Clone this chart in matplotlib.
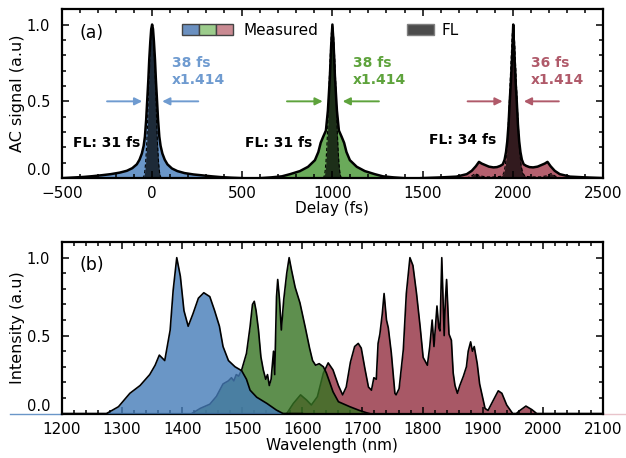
import matplotlib
matplotlib.use("Agg")
import matplotlib.pyplot as plt
from matplotlib.patches import Patch
from matplotlib.legend_handler import HandlerTuple
from matplotlib.ticker import MultipleLocator

plt.rcParams["xtick.direction"] = "in"
plt.rcParams["ytick.direction"] = "in"

# ---------------- (a) autocorrelation traces ----------------
# blue pulse, centred at 0 fs
delay_blue = [-500, -440, -380, -330, -280, -230, -180, -140, -110, -85, -70, -57, -47, -40, -33, -27, -21, -16, -10, -5, 0,
              5, 10, 16, 21, 27, 33, 40, 47, 57, 70, 85, 110, 140, 180, 230, 280, 330, 380, 440, 500]
meas_blue = [0.0, 0.004, 0.008, 0.013, 0.019, 0.026, 0.036, 0.048, 0.065, 0.09, 0.12, 0.16, 0.21, 0.27, 0.38, 0.51, 0.64, 0.77, 0.89, 0.97, 1.0,
             0.97, 0.89, 0.77, 0.64, 0.51, 0.38, 0.27, 0.21, 0.16, 0.12, 0.09, 0.063, 0.046, 0.033, 0.024, 0.018, 0.012, 0.007, 0.003, 0.0]
fl_delay_blue = [-54, -46, -41, -36, -31, -26, -22, -17, -12, -6, 0, 6, 12, 17, 22, 26, 31, 36, 41, 46, 54]
fl_blue = [0.0, 0.01, 0.04, 0.10, 0.20, 0.33, 0.50, 0.66, 0.80, 0.94, 1.0, 0.94, 0.80, 0.66, 0.50, 0.33, 0.20, 0.10, 0.04, 0.01, 0.0]

# green pulse, centred at 1000 fs
delay_green = [600, 660, 720, 765, 820, 865, 903, 922, 935, 949, 964, 975, 986, 993, 1000,
               1007, 1014, 1025, 1036, 1051, 1065, 1078, 1097, 1135, 1180, 1235, 1280, 1340, 1400]
meas_green = [0.0, 0.005, 0.012, 0.026, 0.046, 0.074, 0.117, 0.17, 0.23, 0.27, 0.31, 0.44, 0.66, 0.86, 1.0,
              0.86, 0.66, 0.44, 0.31, 0.27, 0.23, 0.17, 0.117, 0.074, 0.046, 0.026, 0.012, 0.005, 0.0]
fl_delay_green = [946, 954, 959, 964, 969, 974, 978, 983, 988, 994, 1000, 1006, 1012, 1017, 1022, 1026, 1031, 1036, 1041, 1046, 1054]
fl_green = [0.0, 0.01, 0.04, 0.10, 0.20, 0.33, 0.50, 0.66, 0.80, 0.94, 1.0, 0.94, 0.80, 0.66, 0.50, 0.33, 0.20, 0.10, 0.04, 0.01, 0.0]

# pink pulse, centred at 2003 fs
delay_pink = [1493, 1603, 1688, 1745, 1773, 1796, 1813, 1828, 1848, 1868, 1893, 1913, 1931, 1945, 1955, 1963, 1970, 1977, 1983, 1990, 1997, 2003,
              2009, 2016, 2023, 2029, 2036, 2043, 2051, 2061, 2075, 2093, 2113, 2138, 2158, 2178, 2193, 2210, 2233, 2261, 2318, 2403, 2513]
meas_pink = [0.0, 0.005, 0.01, 0.026, 0.048, 0.078, 0.106, 0.095, 0.085, 0.075, 0.07, 0.072, 0.08, 0.09, 0.12, 0.17, 0.24, 0.35, 0.49, 0.63, 0.8, 1.0,
             0.8, 0.63, 0.49, 0.35, 0.24, 0.17, 0.12, 0.09, 0.08, 0.072, 0.07, 0.075, 0.085, 0.095, 0.106, 0.078, 0.048, 0.026, 0.01, 0.005, 0.0]
fl_delay_pink = [1743, 1768, 1793, 1818, 1853, 1903, 1935, 1950, 1959, 1967, 1973, 1979, 1985, 1991, 1997, 2003,
                 2009, 2015, 2021, 2027, 2033, 2039, 2047, 2056, 2071, 2103, 2153, 2188, 2213, 2238, 2263]
fl_pink = [0.0, 0.012, 0.03, 0.015, 0.008, 0.008, 0.012, 0.03, 0.08, 0.17, 0.30, 0.44, 0.60, 0.77, 0.93, 1.0,
           0.93, 0.77, 0.60, 0.44, 0.30, 0.17, 0.08, 0.03, 0.012, 0.008, 0.008, 0.015, 0.03, 0.012, 0.0]

# ---------------- (b) spectra ----------------
wl_blue = [1113, 1274, 1294, 1313, 1330, 1346, 1355, 1362, 1371, 1380, 1385, 1391, 1397, 1403, 1410, 1418, 1427, 1436, 1446,
           1454, 1462, 1468, 1477, 1488, 1499, 1507, 1513, 1524, 1541, 1557, 1568, 1600]
spec_blue = [0.0, 0.0, 0.044, 0.13, 0.18, 0.25, 0.31, 0.375, 0.34, 0.535, 0.79, 1.0, 0.88, 0.66, 0.56, 0.64, 0.74, 0.775, 0.75,
             0.66, 0.56, 0.43, 0.34, 0.30, 0.275, 0.22, 0.15, 0.105, 0.065, 0.022, 0.0, 0.0]

wl_green = [1416, 1430, 1446, 1457, 1468, 1477, 1482, 1486, 1490, 1494, 1499, 1507, 1513, 1517, 1520, 1523, 1527, 1531, 1535,
            1539, 1542, 1545, 1548, 1552, 1554, 1557, 1559, 1562, 1565, 1569, 1574, 1578, 1582, 1588, 1596, 1605, 1612, 1617,
            1622, 1628, 1635, 1640, 1646, 1651, 1660, 1679, 1695, 1707, 1712]
spec_green = [0.0, 0.033, 0.06, 0.11, 0.19, 0.21, 0.23, 0.21, 0.25, 0.24, 0.28, 0.386, 0.557, 0.70, 0.72, 0.66, 0.536, 0.364, 0.28,
              0.22, 0.25, 0.18, 0.22, 0.40, 0.25, 0.75, 0.86, 0.73, 0.536, 0.73, 0.90, 1.0, 0.92, 0.81, 0.71, 0.55, 0.42, 0.34,
              0.31, 0.32, 0.30, 0.26, 0.195, 0.14, 0.076, 0.044, 0.02, 0.005, 0.0]

wl_pink = [1574, 1585, 1597, 1607, 1615, 1625, 1635, 1643, 1651, 1660, 1667, 1673, 1680, 1687, 1693, 1698, 1704, 1710, 1715,
           1719, 1723, 1726, 1729, 1733, 1736, 1740, 1743, 1748, 1754, 1756, 1761, 1768, 1773, 1779, 1784, 1790, 1796, 1801,
           1808, 1812, 1816, 1819, 1824, 1827, 1829, 1832, 1836, 1838, 1840, 1844, 1848, 1851, 1854, 1858, 1862, 1868, 1873,
           1876, 1880, 1883, 1886, 1891, 1895, 1904, 1909, 1915, 1926, 1932, 1940, 1950, 1956, 1962, 1972, 1982, 1990, 2140]
spec_pink = [0.0, 0.065, 0.12, 0.087, 0.055, 0.108, 0.26, 0.325, 0.28, 0.18, 0.12, 0.17, 0.33, 0.43, 0.45, 0.42, 0.29, 0.17, 0.15,
             0.23, 0.22, 0.45, 0.51, 0.64, 0.77, 0.6, 0.55, 0.39, 0.13, 0.12, 0.16, 0.41, 0.77, 1.0, 0.95, 0.77, 0.557, 0.36,
             0.31, 0.43, 0.6, 0.43, 0.69, 0.55, 0.53, 1.0, 0.5, 0.73, 0.86, 0.51, 0.47, 0.26, 0.18, 0.13, 0.18, 0.24, 0.30,
             0.40, 0.46, 0.40, 0.43, 0.32, 0.19, 0.033, 0.02, 0.065, 0.146, 0.13, 0.055, 0.0, 0.0, 0.02, 0.048, 0.025, 0.0, 0.0]

# annotations
fwhm_labels = ["38 fs\nx1.414", "38 fs\nx1.414", "36 fs\nx1.414"]
fwhm_x = [110, 1112, 2100]
fl_labels = ["FL: 31 fs", "FL: 31 fs", "FL: 34 fs"]
fl_x = [-437, 515, 1537]
fl_y = [0.228, 0.228, 0.247]
arrow_left = [(-250, -55), (748, 946), (1750, 1944)]
arrow_right = [(256, 56), (1258, 1057), (2256, 2062)]

top_fill = ["#6a96c8", "#6aaa5a", "#b4606e"]
txt_col = ["#6f9bd0", "#5ea33c", "#b05a6a"]
leg_col = ["#6b90c0", "#9ccc8c", "#c98a92"]

fig = plt.figure(figsize=(6.26, 4.58), dpi=100)
ax1 = fig.add_axes([0.099, 0.611, 0.864, 0.369])
ax2 = fig.add_axes([0.099, 0.097, 0.864, 0.3745])


def style(ax):
    ax.tick_params(which="both", direction="in", top=True, right=True, width=1.1)
    ax.tick_params(axis="x", which="both", labelsize=11, pad=6)
    ax.tick_params(axis="y", which="both", labelsize=10.5, pad=8.5)
    ax.tick_params(which="major", length=5, direction="in")
    ax.tick_params(which="minor", length=3, direction="in")
    for s in ax.spines.values():
        s.set_linewidth(1.6)


# ---- panel (a) ----
traces = [(delay_blue, meas_blue, fl_delay_blue, fl_blue),
          (delay_green, meas_green, fl_delay_green, fl_green),
          (delay_pink, meas_pink, fl_delay_pink, fl_pink)]
for i, (d, m, fd, f) in enumerate(traces):
    ax1.fill_between(d, 0, m, color=top_fill[i], lw=0, zorder=1)
    ax1.fill_between(fd, 0, f, color="black", alpha=0.72, lw=0, zorder=2)
    ax1.plot(fd, f, color="black", lw=0.8, ls=(0, (3, 2)), zorder=3)
    ax1.plot(d, m, color="black", lw=1.8, zorder=4)

for i in range(3):
    ax1.text(fwhm_x[i], 0.693, fwhm_labels[i], color=txt_col[i], fontsize=10, fontweight="bold",
             ha="left", va="center", linespacing=1.25)
    ax1.text(fl_x[i], fl_y[i], fl_labels[i], color="black", fontsize=10, fontweight="bold",
             ha="left", va="center")
    for (x0, x1) in (arrow_left[i], arrow_right[i]):
        ax1.annotate("", xy=(x1, 0.5), xytext=(x0, 0.5),
                     arrowprops=dict(arrowstyle="-|>", color=txt_col[i], lw=1.4, mutation_scale=11,
                                     shrinkA=0, shrinkB=0))

ax1.text(0.033, 0.86, "(a)", transform=ax1.transAxes, fontsize=12.5, va="center", ha="left")

h_meas = tuple(Patch(facecolor=c, edgecolor="#444444", lw=1.0) for c in leg_col)
leg1 = ax1.legend([h_meas], ["Measured"], handler_map={tuple: HandlerTuple(ndivide=None, pad=0)},
                  loc="center left", bbox_to_anchor=(0.222, 0.873), frameon=False, fontsize=11,
                  borderpad=0, borderaxespad=0, handlelength=3.35, handleheight=0.75, handletextpad=0.65)
ax1.add_artist(leg1)
h_fl = Patch(facecolor="#4c4c4c", edgecolor="#808080", lw=1.0)
ax1.legend([h_fl], ["FL"], loc="center left", bbox_to_anchor=(0.638, 0.873), frameon=False, fontsize=11,
           borderpad=0, borderaxespad=0, handlelength=1.75, handleheight=0.75, handletextpad=0.5)

ax1.set_xlim(-500, 2500)
ax1.set_ylim(0, 1.1)
ax1.xaxis.set_major_locator(MultipleLocator(500))
ax1.xaxis.set_minor_locator(MultipleLocator(100))
ax1.set_yticks([0, 0.5, 1.0])
ax1.yaxis.set_minor_locator(MultipleLocator(0.1))
ax1.set_xlabel("Delay (fs)", fontsize=11, labelpad=0)
ax1.set_ylabel("AC signal (a.u)", fontsize=11.5, labelpad=1)
style(ax1)

# ---- panel (b) ----
ax2.fill_between(wl_pink, 0, spec_pink, color="#a85866", lw=0, zorder=1)
ax2.plot(wl_pink, spec_pink, color="black", lw=1.2, zorder=1.5)
ax2.fill_between(wl_green, 0, spec_green, color="#367322", alpha=0.8, lw=0, zorder=2)
ax2.plot(wl_green, spec_green, color="black", lw=1.2, zorder=2.5)
ax2.fill_between(wl_blue, 0, spec_blue, color="#457cb8", alpha=0.8, lw=0, zorder=3)
ax2.plot(wl_blue, spec_blue, color="black", lw=1.2, zorder=3.5)

ax2.set_xlim(1200, 2100)
ax2.set_ylim(0, 1.1)
# fill edges that spill outside the frame in the original
ax2.plot([wl_blue[0], 1200], [0, 0], color="#6a96c8", lw=1.0, clip_on=False, zorder=0.5)
ax2.plot([2100, wl_pink[-1]], [0, 0], color="#e8c4cb", lw=1.0, clip_on=False, zorder=0.5)

ax2.text(0.033, 0.866, "(b)", transform=ax2.transAxes, fontsize=12.5, va="center", ha="left")
ax2.xaxis.set_major_locator(MultipleLocator(100))
ax2.xaxis.set_minor_locator(MultipleLocator(20))
ax2.set_yticks([0, 0.5, 1.0])
ax2.yaxis.set_minor_locator(MultipleLocator(0.1))
ax2.set_xlabel("Wavelength (nm)", fontsize=11, labelpad=1)
ax2.set_ylabel("Intensity (a.u)", fontsize=11.5, labelpad=1)
style(ax2)

# the 0.0 labels sit above their tick in the original
for ax in (ax1, ax2):
    ax.get_yticklabels()[0].set_va("bottom")

fig.savefig("out.png", dpi=100)
